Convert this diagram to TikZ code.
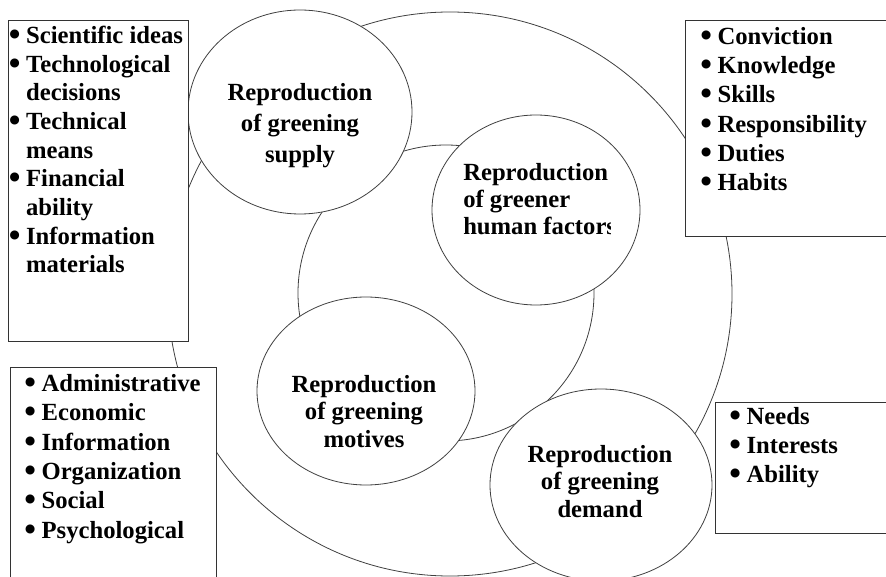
\documentclass[tikz,border=0pt]{standalone}
\usepackage{fontspec}
\setmainfont{Liberation Serif}
\usetikzlibrary{shapes.geometric}
\newcommand{\bul}{\makebox[13pt][l]{\raisebox{-1.5pt}{\scalebox{1.35}{\textbullet}}}}
\newcommand{\itemgap}{\hspace*{13pt}}
\begin{document}
\begin{tikzpicture}[x=0.75pt,y=-0.75pt,
  ring/.style={circle, draw=black!75, fill=white, line width=0.6pt, inner sep=0},
  bubble/.style={ellipse, draw=black!75, fill=white, line width=0.6pt, inner sep=0},
  listbox/.style={rectangle, draw=black!80, fill=white, line width=1pt, inner sep=0, anchor=north west},
  bubbletext/.style={font=\fontsize{18.5}{20.3}\selectfont\bfseries, align=center, inner sep=0, anchor=base},
  itemtext/.style={font=\fontsize{18.5}{22}\selectfont\bfseries, align=left, inner sep=0, anchor=base west}]
\useasboundingbox (0,0) rectangle (886,577);
% rings
\node [ring, minimum size=423pt] (outer) at (450,294) {};
\node [ring, minimum size=222pt] (inner) at (446,293) {};
% bubbles
\node [bubble, minimum width=168pt, minimum height=153pt] (supply) at (300,112) {};
\node [bubble, minimum width=156pt, minimum height=142.5pt] (human) at (536,210) {};
\node [bubble, minimum width=163.5pt, minimum height=141pt] (motives) at (366,391) {};
\node [bubble, minimum width=166.5pt, minimum height=144pt] (demand) at (601,485) {};
% texts sit on the baseline of their last line
\node [bubbletext, font=\fontsize{18.5}{23.6}\selectfont\bfseries] (supplytxt) at (300,163) {Reproduction\\of greening\\supply};
\begin{scope}
\clip (430,150) rectangle (610,260);
\node [bubbletext, align=left, anchor=base west] (humantxt) at (463,235) {Reproduction\\of greener\\human factors};
\end{scope}
\node [bubbletext] (motivestxt) at (364,447) {Reproduction\\of greening\\motives};
\node [bubbletext] (demandtxt) at (600,517) {Reproduction\\of greening\\demand};
% boxes
\node [listbox, minimum width=135pt, minimum height=240.75pt] (means) at (8,20) {};
\node [listbox, minimum width=160pt, minimum height=162pt] (traits) at (685,20) {};
\node [listbox, minimum width=154.5pt, minimum height=170pt] (levers) at (10,367) {};
\node [listbox, minimum width=140pt, minimum height=98.25pt] (wants) at (715,402) {};
\node [itemtext, font=\fontsize{18.5}{21.5}\selectfont\bfseries] (meanslist) at (8.5,273)
  {\bul Scientific ideas\\ \bul Technological\\ \itemgap decisions\\ \bul Technical\\ \itemgap means\\
   \bul Financial\\ \itemgap ability\\ \bul Information\\ \itemgap materials};
\node [itemtext] (traitslist) at (700,191)
  {\bul Conviction\\ \bul Knowledge\\ \bul Skills\\ \bul Responsibility\\ \bul Duties\\ \bul Habits};
\node [itemtext] (leverslist) at (24,538)
  {\bul Administrative\\ \bul Economic\\ \bul Information\\ \bul Organization\\ \bul Social\\ \bul Psychological};
\node [itemtext] (wantslist) at (729,483)
  {\bul Needs\\ \bul Interests\\ \bul Ability};
\end{tikzpicture}
\end{document}
